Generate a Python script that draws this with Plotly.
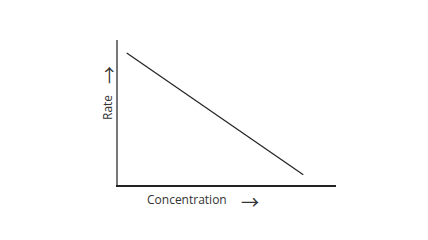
import plotly.graph_objects as go

concentration = [0.4, 8.5]
rate = [9.1, 0.7]

fig = go.Figure()
fig.add_trace(go.Scatter(x=concentration, y=rate, mode="lines",
                         line=dict(color="#222222", width=1.2), showlegend=False,
                         hoverinfo="skip"))
fig.update_layout(
    width=428, height=240,
    margin=dict(l=118, r=92, t=40, b=55),
    paper_bgcolor="white", plot_bgcolor="white",
    font=dict(family="Open Sans", size=12, color="#333333"),
    xaxis=dict(range=[0, 10], showline=True, linecolor="#222222", linewidth=1.5,
               showgrid=False, zeroline=False, showticklabels=False, ticks=""),
    yaxis=dict(range=[0, 10], showline=True, linecolor="#777777", linewidth=1.5,
               showgrid=False, zeroline=False, showticklabels=False, ticks=""),
)
ann = dict(xref="paper", yref="paper", showarrow=False, xanchor="center", yanchor="middle")
arrow_font = dict(family="Noto Sans CJK SC", size=18, color="#333333")
fig.add_annotation(text="Concentration", x=(187 - 118) / 218, y=-(199 - 185) / 145,
                   font=dict(size=12, color="#333333"), **ann)
fig.add_annotation(text="→", x=(250 - 118) / 218, y=-(201 - 185) / 145,
                   font=arrow_font, **ann)
fig.add_annotation(text="Rate", x=-(118 - 107) / 218, y=(185 - 108) / 145,
                   textangle=-90, font=dict(size=12, color="#333333"), **ann)
fig.add_annotation(text="→", x=-(118 - 108) / 218, y=(185 - 75) / 145,
                   textangle=-90, font=arrow_font, **ann)
fig.write_html("out.html")
